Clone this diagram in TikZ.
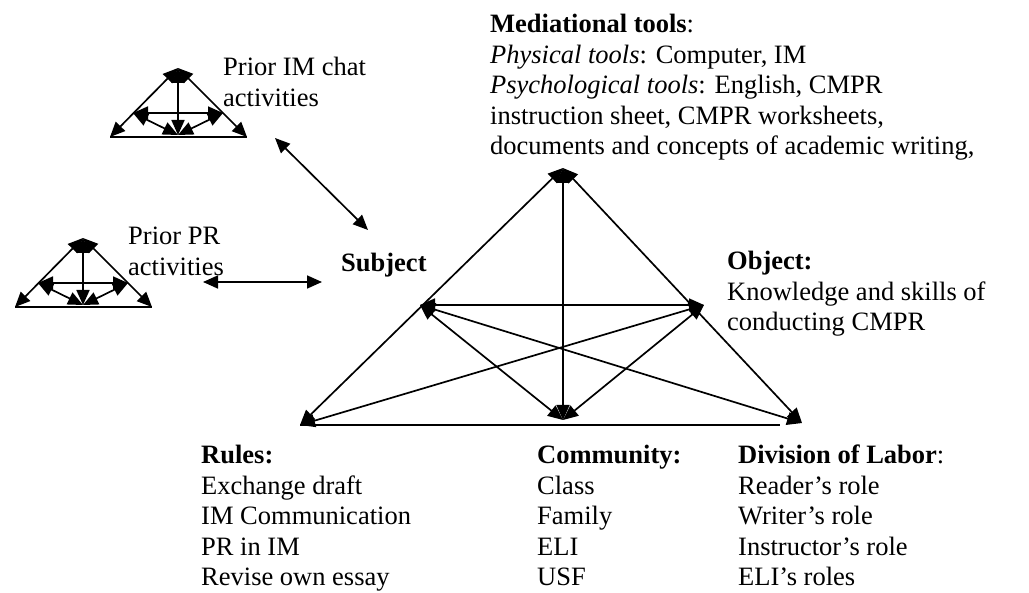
\documentclass[tikz,border=0pt]{standalone}
\usepackage{fontspec}
\setmainfont{Liberation Serif}
\usetikzlibrary{arrows.meta}
\begin{document}
\begin{tikzpicture}[x=1pt,y=-1pt,
  link/.style={line width=1.7pt,{Triangle[length=15pt,width=13pt]}-{Triangle[length=15pt,width=13pt]}},
  plain/.style={line width=1.7pt},
  txt/.style={inner sep=0pt,font=\fontsize{26.5}{30.5}\selectfont,align=left},
  actri/.pic={
    \coordinate (-a)  at (0,0);
    \coordinate (-bl) at (-68,69);
    \coordinate (-br) at (69,69);
    \coordinate (-bm) at (0,67);
    \coordinate (-lm) at (-45,45);
    \coordinate (-rm) at (45,45);
    \draw[plain] (-bl) -- (-br);
    \draw[link] (-a) -- (-bl);
    \draw[link] (-a) -- (-br);
    \draw[link] (-a) -- (-bm);
    \draw[link] (-lm) -- (-rm);
    \draw[link] (-lm) -- (-bm);
    \draw[link] (-rm) -- (-bm);
  }]
\useasboundingbox (0,0) rectangle (1029,593);

% main activity triangle
\coordinate (A)  at (563,168);
\coordinate (BL) at (300,425);
\coordinate (BR) at (802,423);
\coordinate (BM) at (563,420);
\coordinate (LM) at (420,305);
\coordinate (RM) at (704,305);
\coordinate (BE) at (780,425);
\draw[plain] (BL) -- (BE);
\draw[link] (A) -- (BL);
\draw[link] (A) -- (BR);
\draw[link] (A) -- (BM);
\draw[link] (LM) -- (RM);
\draw[link] (LM) -- (BR);
\draw[link] (RM) -- (BL);
\draw[link] (LM) -- (BM);
\draw[link] (RM) -- (BM);

% prior activity systems
\pic (imtri) at (178,68) {actri};
\pic (prtri) at (83,238) {actri};

\coordinate (imS) at (275,138);
\coordinate (imE) at (368,230);
\coordinate (prS) at (203,282);
\coordinate (prE) at (322,282);
\draw[link] (imS) -- (imE);
\draw[link] (prS) -- (prE);

% labels
\node[txt,anchor=north west] (med) at (490,14)
  {\textbf{Mediational tools}:\\
   \textit{Physical tools}: Computer, IM\\
   \textit{Psychological tools}: English, CMPR\\
   instruction sheet, CMPR worksheets,\\
   documents and concepts of academic writing,};
\node[txt,anchor=base west] (subj) at (341,272) {\textbf{Subject}};
\node[txt,anchor=north west] (obj) at (727,251)
  {\textbf{Object:}\\ Knowledge and skills of\\ conducting CMPR};
\node[txt,anchor=north west] (imlab) at (223,57) {Prior IM chat\\ activities};
\node[txt,anchor=north west] (prlab) at (128,227) {Prior PR\\ activities};
\node[txt,anchor=north west] (rules) at (201,445)
  {\textbf{Rules:}\\ Exchange draft\\ IM Communication\\ PR in IM\\ Revise own essay};
\node[txt,anchor=north west] (comm) at (537,445)
  {\textbf{Community:}\\ Class\\ Family\\ ELI\\ USF};
\node[txt,anchor=north west] (dol) at (738,445)
  {\textbf{Division of Labor}:\\ Reader’s role\\ Writer’s role\\ Instructor’s role\\ ELI’s roles};
\end{tikzpicture}
\end{document}
